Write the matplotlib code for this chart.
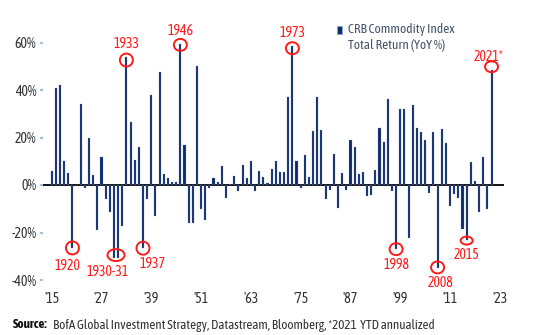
import matplotlib
matplotlib.use("Agg")
import matplotlib.pyplot as plt
from matplotlib.patches import Ellipse

# ---- data ----
years = list(range(1915, 2022))
returns = [
    6, 41, 42, 10, 5, -26.5, 0, 34, -1.4, 20,          # 1915-1924
    4.2, -18.8, 12, -6, -11.5, -30.7, -30.7, -17.4, 54, 26.5,  # 1925-1934
    10.7, 16, -26.6, -6, 38, -13.2, 47.4, 4.5, 2.9, 1.1,      # 1935-1944
    1.1, 59.5, 16.7, -16, -16, 50.3, -9.9, -14.6, -1.3, 2.9,  # 1945-1954
    1.4, 8, -5.5, 0.3, 4, -2.4, 8.5, 2.9, 10.1, -2.5,         # 1955-1964
    5.8, 3.2, 0.8, 6.9, 10.2, 5.3, 5.4, 37.2, 58.5, 9.9,      # 1965-1974
    -1.3, 12.7, 3.4, 22.6, 36.9, 23, -5.9, -2.1, 13, -9.7,    # 1975-1984
    5, -1.9, 19, 16.2, 4.6, 5.3, -4.5, -4, 6.3, 24.2,         # 1985-1994
    17.9, 36.3, -2.5, -27, 32, 32, -22.4, 33.6, 24.2, 22.3,   # 1995-2004
    18.8, -3.5, 22.2, -35, 23.6, 17.6, -8.8, -3.9, -5.6, -18.6,  # 2005-2014
    -23.3, 9.6, 1.7, -11.2, 12, -10, 48.3,                    # 2015-2021
]
xtick_years = [1915, 1927, 1939, 1951, 1963, 1975, 1987, 1999, 2011, 2023]
xtick_labels = ["'15", "'27", "'39", "'51", "'63", "'75", "'87", "'99", "'11", "'23"]
ytick_vals = [60, 40, 20, 0, -20, -40]
ytick_labels = ["60%", "40%", "20%", "0%", "-20%", "-40%"]
legend_label = "CRB Commodity Index\nTotal Return (YoY %)"
source_bold = "Source:"
source_text = "BofA Global Investment Strategy, Datastream, Bloomberg, *2021  YTD annualized"

ann_labels = ["1920", "1930-31", "1937", "1933", "1946", "1973", "1998", "2008", "2015", "2021*"]
ann_years = [1920, 1930.5, 1937, 1933, 1946, 1973, 1998, 2008, 2015, 2021]
ann_values = [-26.5, -29.5, -26.6, 52.6, 59.0, 57.6, -27, -34.7, -23.4, 49.8]

# ---- layout (pixels) ----
ann_text_offsets = [(-5, -18), (-8, -17), (10, -16), (0, 16), (0, 13.5), (0, 15),
                    (0, -16), (2.5, -16), (0, -14.5), (-3, 9.5)]
ann_sizes = [(13, 13), (17, 12), (13, 13), (13, 13), (13, 12), (13, 12),
             (13, 12), (13, 12), (12, 8), (13, 11)]

NAVY = "#0b2a6b"
RED = "#ff1a1a"
TXT = "#333333"

plt.rcParams['font.family'] = ['Asap Condensed', 'Archivo Narrow', 'DejaVu Sans']

W, H = 536, 335
fig = plt.figure(figsize=(W / 100, H / 100), dpi=100)
x0, x1 = 1913, 2024
y0, y1 = -45, 65
left_px, right_px = 43.4, 504.0
top_px = 185 - 65 * 2.375
bot_px = 185 + 45 * 2.375
ax = fig.add_axes([left_px / W, (H - bot_px) / H, (right_px - left_px) / W, (bot_px - top_px) / H])
ax.set_xlim(x0, x1)
ax.set_ylim(y0, y1)

ax.axhline(0, color="black", lw=1.3, zorder=1)
ax.bar(years, returns, width=0.5, color=NAVY, edgecolor="#8090b0", linewidth=0.2, zorder=2)

for s in ax.spines.values():
    s.set_visible(False)

ax.set_yticks(ytick_vals)
ax.set_yticklabels(ytick_labels, fontsize=10, color=TXT)
ax.set_xticks(xtick_years)
ax.set_xticklabels(xtick_labels, fontsize=10, color=TXT)
ax.tick_params(axis='y', length=2, width=1.5, color="#9dc3e6", pad=3)
ax.tick_params(axis='x', length=0, pad=0)

px_per_year = (right_px - left_px) / (x1 - x0)
px_per_pct = (bot_px - top_px) / (y1 - y0)

for lab, yr, val, (dx, dy), (ew, eh) in zip(ann_labels, ann_years, ann_values, ann_text_offsets, ann_sizes):
    e = Ellipse((yr, val), width=ew / px_per_year, height=eh / px_per_pct,
                fill=False, edgecolor=RED, lw=1.4, zorder=4, clip_on=False)
    ax.add_patch(e)
    ax.annotate(lab, xy=(yr, val), xytext=(dx, dy), textcoords='offset pixels',
                ha='center', va='center', color=RED, fontsize=10, zorder=5,
                annotation_clip=False)

# legend
fig.patches.append(plt.Rectangle((336.5 / W, 1 - 34 / H), 5.5 / W, 8 / H, transform=fig.transFigure,
                                 facecolor=NAVY, edgecolor="#8fa3c8", lw=0.8))
fig.text(347.5 / W, 1 - 37.5 / H, legend_label, ha='left', va='center', fontsize=9.5,
         color="#44546a", linespacing=1.2)

# source
t1 = fig.text(13 / W, 1 - 325 / H, source_bold, ha='left', va='center', fontsize=9.4,
              fontweight='bold', color="#111111")
fig.canvas.draw()
bb = t1.get_window_extent()
fig.text((bb.x1 + 5) / W, 1 - 325 / H, source_text, ha='left', va='center', fontsize=9.4,
         color="#333333")

fig.savefig("out.png", dpi=100)
